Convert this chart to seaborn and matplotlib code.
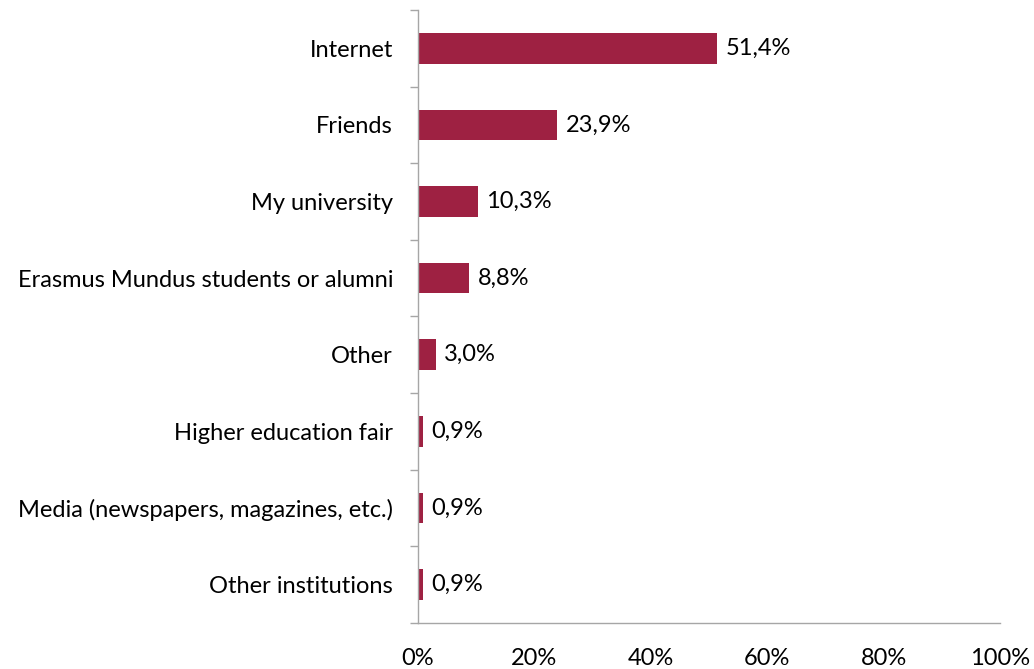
import numpy as np
import pandas as pd
import matplotlib
matplotlib.use('Agg')
import matplotlib.pyplot as plt
import matplotlib.ticker as ticker
import seaborn as sns

categories = ['Internet', 'Friends', 'My university', 'Erasmus Mundus students or alumni',
              'Other', 'Higher education fair', 'Media (newspapers, magazines, etc.)',
              'Other institutions']
shares = [51.4, 23.9, 10.3, 8.8, 3.0, 0.9, 0.9, 0.9]
value_labels = ['51,4%', '23,9%', '10,3%', '8,8%', '3,0%', '0,9%', '0,9%', '0,9%']
x_ticks = [0, 20, 40, 60, 80, 100]

sns.set_theme(style='white')
plt.rcParams['font.family'] = ['Lato', 'DejaVu Sans']

df = pd.DataFrame({'source': categories, 'share': shares})

fig = plt.figure(figsize=(10.34, 6.69), dpi=100)
ax = fig.add_axes([0.4043, 0.069, 0.5628, 0.916])
sns.barplot(data=df, x='share', y='source', color='#9e2142', width=0.4,
            saturation=1, ax=ax, edgecolor='none')

ax.set_xlim(0, 100)
ax.set_ylim(len(categories) - 0.5, -0.5)
ax.set_xlabel('')
ax.set_ylabel('')

ax.xaxis.set_major_locator(ticker.FixedLocator(x_ticks))
ax.set_xticklabels(['%d%%' % t for t in x_ticks], fontsize=17, color='black')
ax.tick_params(axis='x', length=6, width=1, color='#a6a6a6', direction='out', pad=12)

ax.yaxis.set_minor_locator(ticker.FixedLocator(np.arange(-0.5, len(categories), 1.0)))
ax.tick_params(axis='y', which='major', length=0, pad=18, labelsize=17, labelcolor='black')
ax.tick_params(axis='y', which='minor', length=6, width=1, color='#a6a6a6', left=True)

for s in ['top', 'right']:
    ax.spines[s].set_visible(False)
for s in ['left', 'bottom']:
    ax.spines[s].set_color('#a6a6a6')
    ax.spines[s].set_linewidth(1)

for i, (v, lab) in enumerate(zip(shares, value_labels)):
    ax.annotate(lab, xy=(v, i), xytext=(6, 0), textcoords='offset points',
                va='center', ha='left', fontsize=17, color='black')

fig.savefig('out.png', dpi=100)
